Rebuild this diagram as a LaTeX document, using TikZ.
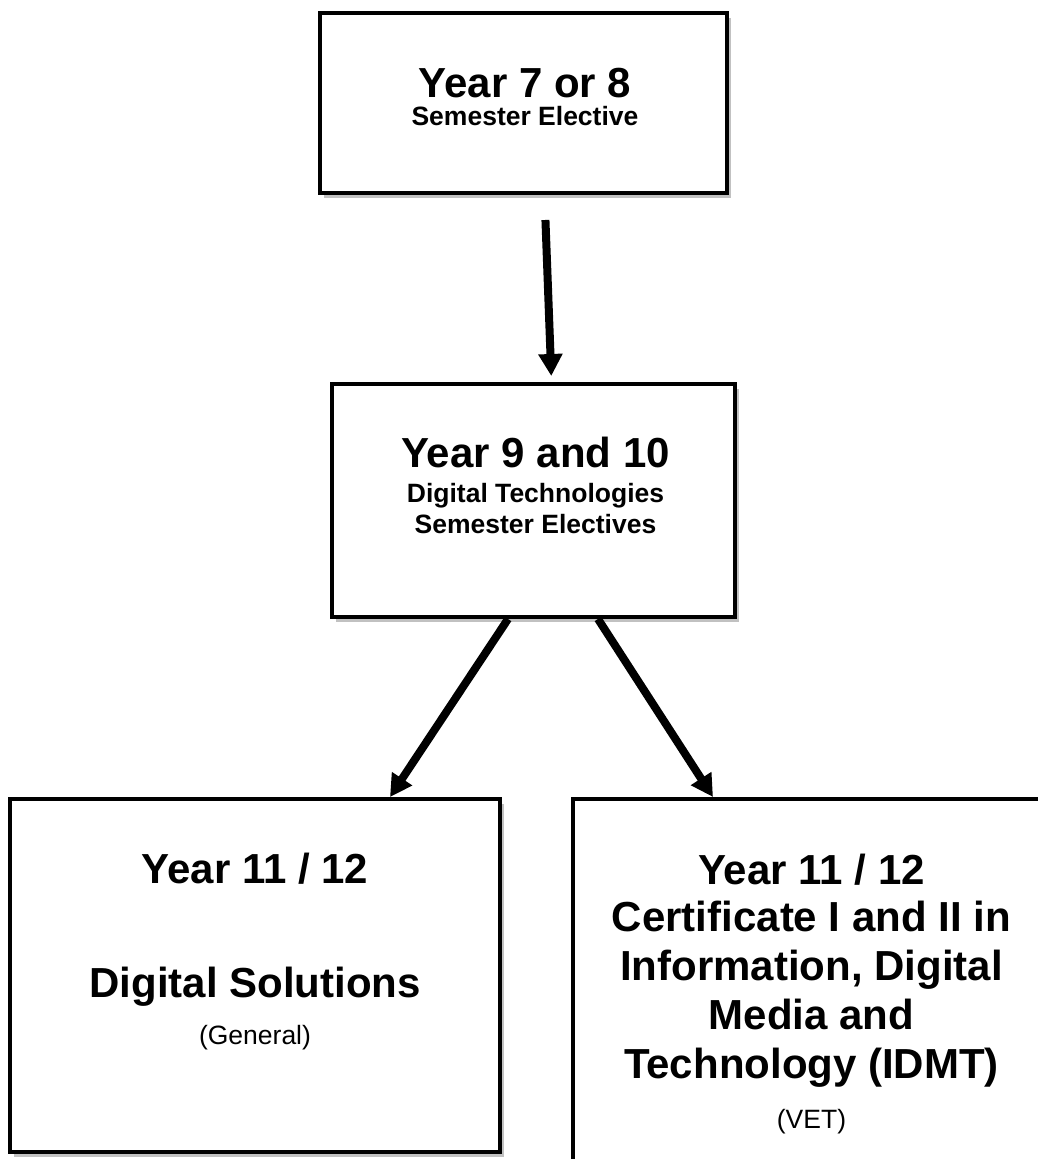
\documentclass[tikz,border=0pt]{standalone}
\usepackage{fontspec}
\setmainfont{Liberation Sans}
\usetikzlibrary{arrows.meta,shadows}

\newcommand\yrfont{\fontsize{42}{49}\selectfont\bfseries}
\newcommand\subfont{\fontsize{26.5}{31}\selectfont\bfseries}
\newcommand\notefont{\fontsize{26.5}{31}\selectfont\mdseries}

\begin{document}
\begin{tikzpicture}[x=1pt,y=-1pt,
	box/.style={draw, line width=4pt, fill=white, inner sep=0pt,
		drop shadow={shadow xshift=4pt, shadow yshift=-5pt, fill=black!30, opacity=0.8}},
	lbl/.style={anchor=base, align=center, inner sep=0pt, font=\yrfont},
	arr/.style={line width=8pt, -{Triangle[width=23pt,length=22pt]}}]
	\useasboundingbox (0,0) rectangle (1037,1159);
		% the four boxes
		\node [box, minimum width=407pt, minimum height=180pt] (y78) at (523.5,103) {};
		\node [box, minimum width=403pt, minimum height=233pt] (y910) at (533.5,500.5) {};
		\node [box, minimum width=490pt, minimum height=353pt] (ds) at (255,975.5) {};
		\node [box, minimum width=507pt, minimum height=421pt] (idmt) at (826.5,1009.5) {};
		% their texts, placed at the last baseline
		\node [lbl] (y78txt) at (525,125) {Year 7 or 8\\[-21pt]{\subfont Semester Elective}};
		\node [lbl] (y910txt) at (535.5,533) {Year 9 and 10\\[-14pt]{\subfont Digital Technologies}\\[-18pt]{\subfont Semester Electives}};
		\node [lbl] (dstxt) at (255,1044) {Year 11 / 12\\[65pt]Digital Solutions\\[-2pt]{\notefont (General)}};
		\node [lbl] (idmttxt) at (811.5,1128) {Year 11 / 12\\[-2pt]Certificate I and II in\\Information, Digital\\Media and\\Technology (IDMT)\\[1pt]{\notefont (VET)}};
		% arrows
		\draw [arr, shorten <=25pt, shorten >=6pt] ([xshift=21pt]y78.south) -- ([xshift=18pt]y910.north);
		\draw [arr] ([xshift=-25.5pt]y910.south) -- ([xshift=135pt]ds.north);
		\draw [arr] ([xshift=64.5pt]y910.south) -- ([xshift=-113.5pt]idmt.north);
\end{tikzpicture}
\end{document}
